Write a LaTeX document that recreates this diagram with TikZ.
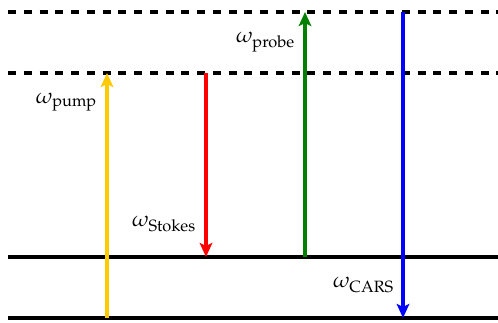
\documentclass[tikz,border=0pt]{standalone}
\usepackage{mathpazo}
\usetikzlibrary{arrows.meta}
\definecolor{pumpcol}{RGB}{255,202,0}
\definecolor{stokescol}{RGB}{255,0,0}
\definecolor{probecol}{RGB}{0,128,0}
\definecolor{carscol}{RGB}{0,0,255}
\tikzset{
  level/.style={line width=1.3pt},
  virtual/.style={line width=1.3pt, dash pattern=on 3.2pt off 3.1pt},
  beam/.style={line width=1.4pt, -{Stealth[length=5.6pt,width=5pt,inset=1.2pt]}},
  lab/.style={anchor=east, inner sep=0pt, font=\fontsize{8.6}{10}\selectfont}
}
\begin{document}
\begin{tikzpicture}[x=0.4pt,y=-0.4pt]
\useasboundingbox (0,0) rectangle (498,322);
% level endpoints
\coordinate (v2l) at (8,12);   \coordinate (v2r) at (498,12);
\coordinate (v1l) at (8,73);   \coordinate (v1r) at (498,73);
\coordinate (g1l) at (8,257);  \coordinate (g1r) at (498,257);
\coordinate (g0l) at (8,318);  \coordinate (g0r) at (498,318);
\draw[virtual] (v2l) -- (v2r);
\draw[virtual] (v1l) -- (v1r);
\draw[level] (g1l) -- (g1r);
\draw[level] (g0l) -- (g0r);
% arrow endpoints
\coordinate (pumpA) at (107,318); \coordinate (pumpB) at (107,73);
\coordinate (stoA) at (206,73);   \coordinate (stoB) at (206,257);
\coordinate (proA) at (305,257);  \coordinate (proB) at (305,12);
\coordinate (carA) at (403,12);   \coordinate (carB) at (403,318);
\draw[beam, pumpcol] (pumpA) -- (pumpB);
\draw[beam, stokescol] (stoA) -- (stoB);
\draw[beam, probecol] (proA) -- (proB);
\draw[beam, carscol] (carA) -- (carB);
% labels
\node[lab] (lpump) at (98,102) {$\omega_{\mathrm{pump}}$};
\node[lab] (lsto) at (197,224) {$\omega_{\mathrm{Stokes}}$};
\node[lab] (lpro) at (296,42) {$\omega_{\mathrm{probe}}$};
\node[lab] (lcar) at (395,285) {$\omega_{\mathrm{CARS}}$};
\end{tikzpicture}
\end{document}
